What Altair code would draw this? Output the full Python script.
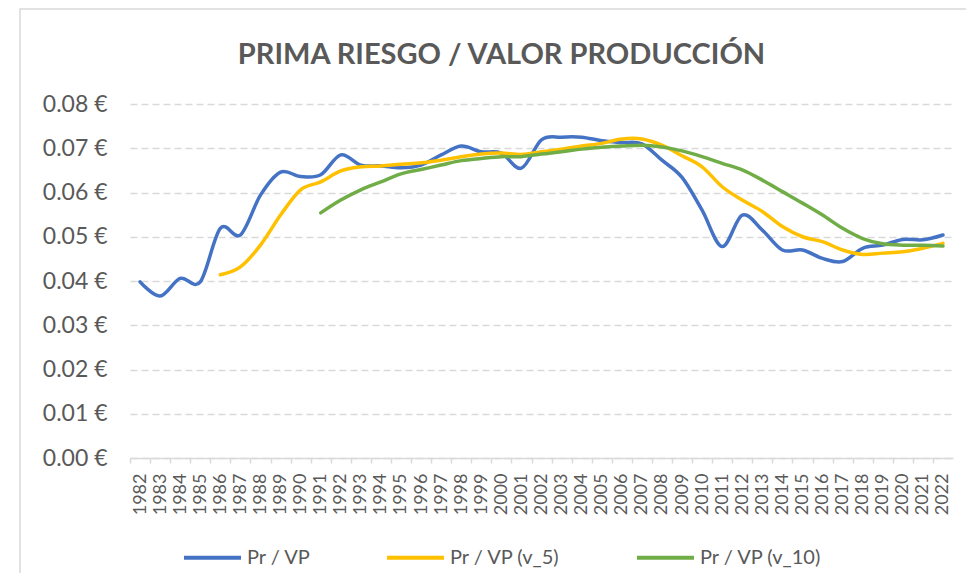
import altair as alt
import pandas as pd

years = list(range(1982, 2023))
pr_vp = [0.0398, 0.0366, 0.0406, 0.0398, 0.0519, 0.0504, 0.0594, 0.0646, 0.0636, 0.0640,
         0.0685, 0.0662, 0.0660, 0.0656, 0.0662, 0.0685, 0.0705, 0.0692, 0.0689, 0.0655,
         0.0719, 0.0725, 0.0725, 0.0717, 0.0713, 0.0710, 0.0673, 0.0634, 0.0560, 0.0478,
         0.0549, 0.0515, 0.0470, 0.0470, 0.0451, 0.0444, 0.0474, 0.0481, 0.0494, 0.0493,
         0.0504]

v5_years = list(range(1986, 2023))
pr_vp_v5 = [0.0414, 0.0432, 0.0481, 0.0549, 0.0606, 0.0624, 0.0649, 0.0658, 0.0660, 0.0664,
            0.0667, 0.0673, 0.0681, 0.0687, 0.0689, 0.0686, 0.0692, 0.0698, 0.0705, 0.0711,
            0.0721, 0.0721, 0.0707, 0.0683, 0.0658, 0.0613, 0.0583, 0.0557, 0.0523, 0.0500,
            0.0489, 0.0470, 0.0460, 0.0463, 0.0466, 0.0474, 0.0485]

v10_years = list(range(1991, 2023))
pr_vp_v10 = [0.0554, 0.0583, 0.0606, 0.0624, 0.0642, 0.0652, 0.0662, 0.0672, 0.0677, 0.0681,
             0.0681, 0.0687, 0.0692, 0.0698, 0.0702, 0.0705, 0.0707, 0.0703, 0.0694, 0.0681,
             0.0666, 0.0651, 0.0628, 0.0602, 0.0576, 0.0549, 0.0519, 0.0496, 0.0484, 0.0481,
             0.0481, 0.0479]

series_names = ["Pr / VP", "Pr / VP (v_5)", "Pr / VP (v_10)"]
series_colors = ["#4472C4", "#FFC000", "#70AD47"]
y_ticks = [0.0, 0.01, 0.02, 0.03, 0.04, 0.05, 0.06, 0.07, 0.08]
title_text = "PRIMA RIESGO / VALOR PRODUCCIÓN"

rows = []
for name, ys, vs in zip(series_names, [years, v5_years, v10_years], [pr_vp, pr_vp_v5, pr_vp_v10]):
    for yr, v in zip(ys, vs):
        rows.append({"Año": yr, "Valor": v, "Serie": name})
df = pd.DataFrame(rows)

TEXT = "#595959"
GRID = "#d9d9d9"
FONT = "Lato"

border = alt.Chart(pd.DataFrame({"k": [0]})).mark_rect(
    fill=None, stroke=GRID, strokeWidth=1.5
).encode(
    x=alt.value(-110), x2=alt.value(1000), y=alt.value(-95), y2=alt.value(600)
)

lines = alt.Chart(df).mark_line(interpolate="cardinal", strokeWidth=3.5, strokeCap="round").encode(
    x=alt.X("Año:Q",
            scale=alt.Scale(domain=[1981.5, 2022.5], nice=False, zero=False),
            axis=alt.Axis(values=years, format="d", labelAngle=270, title=None, grid=False,
                          tickOffset=-10, labelOffset=10, tickSize=5, tickColor=GRID,
                          tickWidth=1.5, domainColor=GRID, domainWidth=1.5, labelPadding=10,
                          labelFont=FONT, labelFontSize=18, labelColor=TEXT)),
    y=alt.Y("Valor:Q",
            scale=alt.Scale(domain=[0, 0.08], nice=False),
            axis=alt.Axis(values=y_ticks, labelExpr="format(datum.value, '.2f') + ' €'",
                          title=None, domain=False, ticks=False, gridDash=[7, 4],
                          gridColor=GRID, gridWidth=1.5, labelPadding=23,
                          labelFont=FONT, labelFontSize=23, labelColor=TEXT)),
    color=alt.Color("Serie:N",
                    scale=alt.Scale(domain=series_names, range=series_colors),
                    legend=alt.Legend(orient="none", legendX=52, legendY=423,
                                      direction="horizontal", title=None,
                                      symbolType="stroke", symbolSize=3249,
                                      symbolStrokeWidth=4, labelFont=FONT,
                                      labelFontSize=20, labelColor=TEXT,
                                      columnPadding=68, labelOffset=4, padding=0)),
)

chart = alt.layer(border, lines).properties(
    width=823,
    height=354,
    autosize=alt.AutoSizeParams(type="none"),
    padding={"left": 122, "top": 96, "right": 13, "bottom": 115},
    title=alt.TitleParams(title_text, font=FONT, fontSize=29, fontWeight="bold",
                          color=TEXT, anchor="middle", dx=-40, offset=-62),
).configure_view(stroke=None)

chart.save("out.html", embed_options={"renderer": "svg", "actions": False})
